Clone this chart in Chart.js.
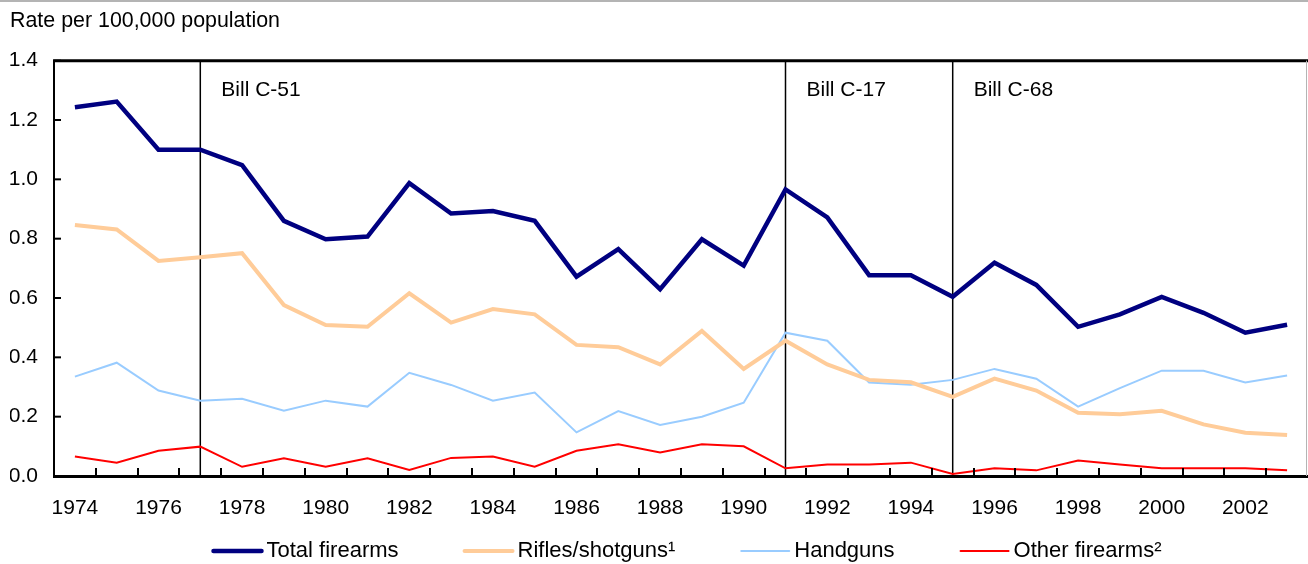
<!DOCTYPE html>
<html>
<head>
<meta charset="utf-8">
<script src="https://cdn.jsdelivr.net/npm/chart.js@4.4.1/dist/chart.umd.min.js"></script>
<style>
  html, body { margin: 0; padding: 0; background: #fff; overflow: hidden; }
  #wrap { width: 1308px; height: 564px; position: relative; }
</style>
</head>
<body>
<div id="wrap"><canvas id="chart"></canvas></div>
<script>
// Data
const years = ['1974', '1975', '1976', '1977', '1978', '1979', '1980', '1981', '1982', '1983',
               '1984', '1985', '1986', '1987', '1988', '1989', '1990', '1991', '1992', '1993',
               '1994', '1995', '1996', '1997', '1998', '1999', '2000', '2001', '2002', '2003'];

const totalFirearms = [1.243, 1.262, 1.100, 1.100, 1.048, 0.860, 0.798, 0.807, 0.987, 0.885,
                       0.893, 0.860, 0.672, 0.765, 0.630, 0.798, 0.709, 0.966, 0.872, 0.677,
                       0.677, 0.604, 0.719, 0.644, 0.503, 0.545, 0.604, 0.550, 0.483, 0.510];

const riflesShotguns = [0.846, 0.831, 0.725, 0.737, 0.751, 0.576, 0.509, 0.503, 0.616, 0.517,
                        0.563, 0.545, 0.442, 0.434, 0.376, 0.489, 0.361, 0.456, 0.376, 0.324,
                        0.316, 0.267, 0.328, 0.288, 0.213, 0.208, 0.220, 0.174, 0.146, 0.138];

const handguns = [0.335, 0.382, 0.288, 0.254, 0.260, 0.220, 0.254, 0.234, 0.348, 0.307,
                  0.254, 0.281, 0.147, 0.219, 0.172, 0.200, 0.247, 0.483, 0.456, 0.315,
                  0.308, 0.324, 0.361, 0.328, 0.234, 0.296, 0.355, 0.355, 0.315, 0.339];

const otherFirearms = [0.066, 0.045, 0.085, 0.099, 0.031, 0.060, 0.031, 0.060, 0.020, 0.061,
                       0.066, 0.031, 0.085, 0.107, 0.079, 0.107, 0.100, 0.026, 0.039, 0.039,
                       0.045, 0.007, 0.026, 0.019, 0.052, 0.039, 0.026, 0.026, 0.026, 0.019];

const seriesNames = ['Total firearms', 'Rifles/shotguns\u00B9', 'Handguns', 'Other firearms\u00B2'];

const billYears = ['1977', '1991', '1995'];
const billLabels = ['Bill C-51', 'Bill C-17', 'Bill C-68'];

const FONT = '"Liberation Sans", Arial, Helvetica, sans-serif';
Chart.defaults.font.family = FONT;
Chart.defaults.color = '#000';

// Bill lines, inward ticks, frame and legend
const decorations = {
    id: 'decorations',
    beforeDatasetsDraw(chart) {
        const ctx = chart.ctx;
        const area = chart.chartArea;
        const x = chart.scales.x;
        ctx.save();
        ctx.strokeStyle = '#000';
        ctx.lineWidth = 1.5;
        billYears.forEach((yr, i) => {
            const px = x.getPixelForValue(years.indexOf(yr));
            ctx.beginPath();
            ctx.moveTo(px, area.top);
            ctx.lineTo(px, area.bottom);
            ctx.stroke();
            ctx.fillStyle = '#000';
            ctx.font = '21px ' + FONT;
            ctx.textBaseline = 'middle';
            ctx.textAlign = 'left';
            ctx.fillText(billLabels[i], px + 21, area.top + 30);
        });
        ctx.restore();
    },
    afterDatasetsDraw(chart) {
        const ctx = chart.ctx;
        const area = chart.chartArea;
        const x = chart.scales.x;
        const y = chart.scales.y;
        ctx.save();
        ctx.strokeStyle = '#000';
        ctx.lineWidth = 2;
        // x ticks between categories, pointing up
        for (let i = 1; i < years.length; i++) {
            const px = Math.round((x.getPixelForValue(i - 1) + x.getPixelForValue(i)) / 2);
            ctx.beginPath();
            ctx.moveTo(px, area.bottom);
            ctx.lineTo(px, area.bottom - 8);
            ctx.stroke();
        }
        // y ticks pointing right
        y.ticks.forEach(t => {
            const py = y.getPixelForValue(t.value);
            ctx.beginPath();
            ctx.moveTo(area.left, py);
            ctx.lineTo(area.left + 7, py);
            ctx.stroke();
        });
        // top border of plot box
        ctx.lineWidth = 3;
        ctx.beginPath();
        ctx.moveTo(area.left - 1, area.top);
        ctx.lineTo(area.right, area.top);
        ctx.stroke();
        // light right edge
        ctx.strokeStyle = '#b4b4b4';
        ctx.lineWidth = 1;
        ctx.beginPath();
        ctx.moveTo(area.right - 1.5, area.top);
        ctx.lineTo(area.right - 1.5, area.bottom);
        ctx.stroke();
        // light rule at top of the picture
        ctx.fillStyle = '#b4b4b4';
        ctx.fillRect(0, 0, chart.width, 2);
        ctx.restore();
    },
    afterDraw(chart) {
        const ctx = chart.ctx;
        const area = chart.chartArea;
        const items = chart.data.datasets.map(ds => ({
            text: ds.label, color: ds.borderColor, width: ds.borderWidth
        }));
        const boxW = 50, boxGap = 4, itemGap = 65;
        ctx.save();
        ctx.font = '22px ' + FONT;
        let total = 0;
        items.forEach((it, i) => {
            it.tw = ctx.measureText(it.text).width;
            total += boxW + boxGap + it.tw + (i > 0 ? itemGap : 0);
        });
        let cx = (area.left + area.right) / 2 + 6 - total / 2;
        const cy = 551;
        items.forEach(it => {
            ctx.strokeStyle = it.color;
            ctx.lineWidth = it.width;
            ctx.lineCap = 'round';
            ctx.beginPath();
            ctx.moveTo(cx + 1, cy);
            ctx.lineTo(cx + boxW - 1, cy);
            ctx.stroke();
            ctx.fillStyle = '#000';
            ctx.textBaseline = 'middle';
            ctx.textAlign = 'left';
            ctx.fillText(it.text, cx + boxW + boxGap, cy);
            cx += boxW + boxGap + it.tw + itemGap;
        });
        ctx.restore();
    }
};

const lineStyle = { pointRadius: 0, tension: 0, fill: false };

new Chart(document.getElementById('chart'), {
    type: 'line',
    data: {
        labels: years,
        datasets: [
            { label: seriesNames[0], data: totalFirearms, borderColor: '#000080', borderWidth: 4.5, ...lineStyle },
            { label: seriesNames[1], data: riflesShotguns, borderColor: '#FFCC99', borderWidth: 4, ...lineStyle },
            { label: seriesNames[2], data: handguns, borderColor: '#99CCFF', borderWidth: 2, ...lineStyle },
            { label: seriesNames[3], data: otherFirearms, borderColor: '#FF0000', borderWidth: 2, ...lineStyle }
        ]
    },
    options: {
        responsive: true,
        maintainAspectRatio: false,
        animation: false,
        devicePixelRatio: 1,
        layout: { padding: { left: 10, right: 0, top: 0, bottom: 0 } },
        plugins: {
            legend: { display: false },
            tooltip: { enabled: false },
            title: {
                display: true,
                text: 'Rate per 100,000 population',
                align: 'start',
                color: '#000',
                font: { size: 21.4, weight: 'normal', lineHeight: 1.2 },
                padding: { top: 8, bottom: 27 }
            }
        },
        scales: {
            x: {
                type: 'category',
                offset: true,
                grid: { display: false, drawTicks: false },
                border: { display: true, color: '#000', width: 3 },
                ticks: {
                    autoSkip: false,
                    maxRotation: 0,
                    padding: 20,
                    font: { size: 21 },
                    color: '#000',
                    callback: (val, i) => (i % 2 === 0 ? years[i] : '')
                },
                afterFit: s => { s.height = 88; }
            },
            y: {
                min: 0,
                max: 1.4,
                grid: { display: false, drawTicks: false },
                border: { display: true, color: '#000', width: 2 },
                ticks: {
                    stepSize: 0.2,
                    padding: 16,
                    font: { size: 21 },
                    color: '#000',
                    callback: v => v.toFixed(1)
                },
                afterFit: s => { s.width = 44; }
            }
        }
    },
    plugins: [decorations]
});
</script>
</body>
</html>
